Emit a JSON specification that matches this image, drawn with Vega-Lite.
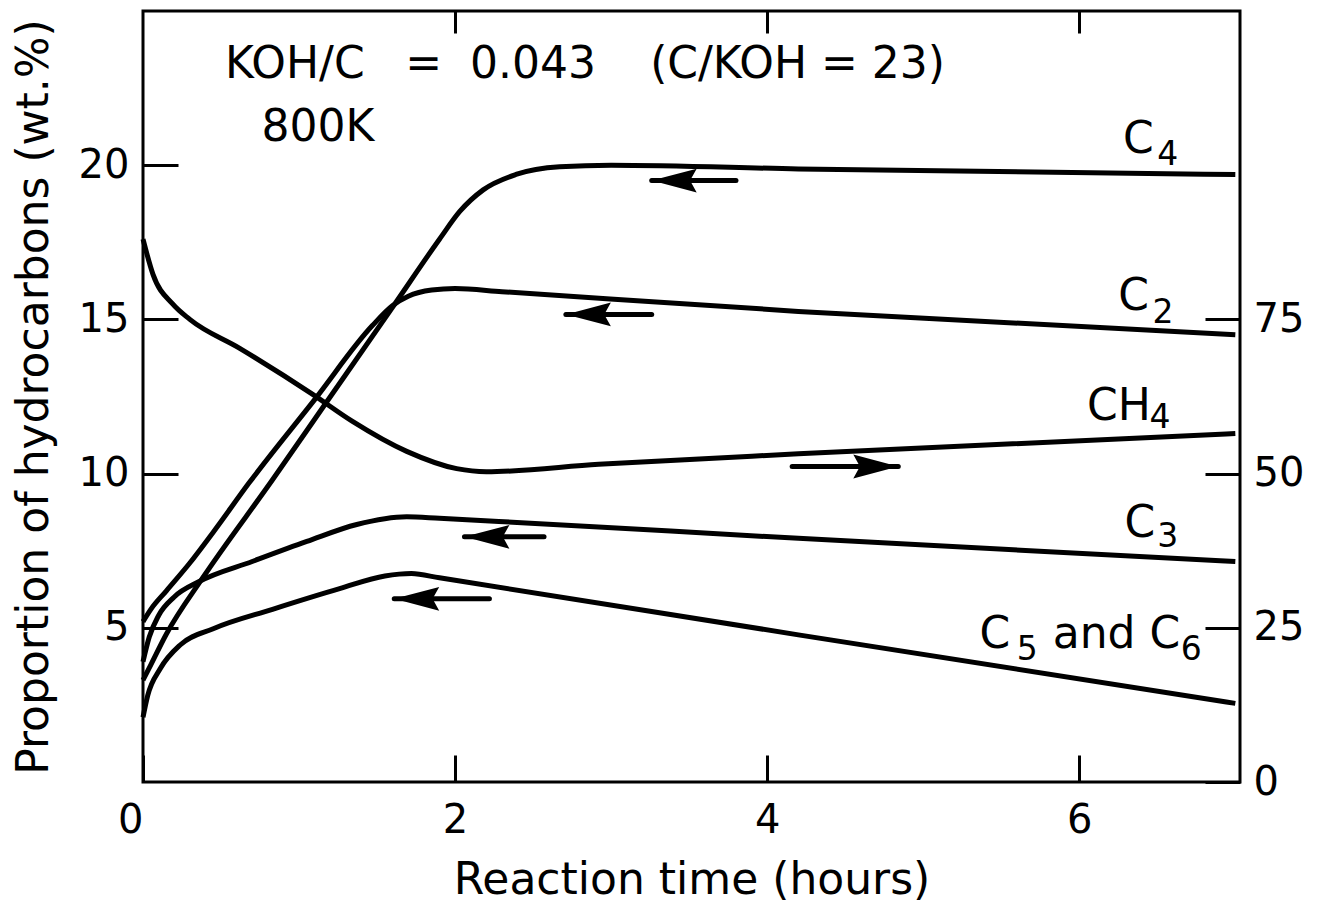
{
  "$schema": "https://vega.github.io/schema/vega-lite/v6.json",
  "width": 1097,
  "height": 771,
  "autosize": {"type": "none"},
  "padding": {"left": 143, "top": 11, "right": 91, "bottom": 124},
  "background": "white",
  "config": {
    "view": {"stroke": "black", "strokeWidth": 3},
    "font": "DejaVu Sans",
    "axis": {
      "domain": false,
      "grid": false,
      "ticks": true,
      "tickColor": "black",
      "tickWidth": 3,
      "labelColor": "black",
      "titleColor": "black",
      "labelFont": "DejaVu Sans",
      "titleFont": "DejaVu Sans",
      "labelFontSize": 40,
      "titleFontSize": 44,
      "titleFontWeight": "normal"
    }
  },
  "datasets": {
    "curves": [
      {"series": "C4", "t": 0, "wt": 3.3},
      {"series": "C4", "t": 0.05, "wt": 3.8},
      {"series": "C4", "t": 0.15, "wt": 4.8},
      {"series": "C4", "t": 0.38, "wt": 6.6},
      {"series": "C4", "t": 0.83, "wt": 9.8},
      {"series": "C4", "t": 1.16, "wt": 12.2},
      {"series": "C4", "t": 1.6, "wt": 15.4},
      {"series": "C4", "t": 1.9, "wt": 17.6},
      {"series": "C4", "t": 2.03, "wt": 18.5},
      {"series": "C4", "t": 2.18, "wt": 19.2},
      {"series": "C4", "t": 2.39, "wt": 19.7},
      {"series": "C4", "t": 2.67, "wt": 19.95},
      {"series": "C4", "t": 3.0, "wt": 20.0},
      {"series": "C4", "t": 4.2, "wt": 19.88},
      {"series": "C4", "t": 7.0, "wt": 19.7},
      {"series": "C2", "t": 0, "wt": 5.2},
      {"series": "C2", "t": 0.05, "wt": 5.6},
      {"series": "C2", "t": 0.15, "wt": 6.2},
      {"series": "C2", "t": 0.3, "wt": 7.1},
      {"series": "C2", "t": 0.45, "wt": 8.1},
      {"series": "C2", "t": 0.68, "wt": 9.7},
      {"series": "C2", "t": 1.1, "wt": 12.4},
      {"series": "C2", "t": 1.47, "wt": 14.8},
      {"series": "C2", "t": 1.6, "wt": 15.45},
      {"series": "C2", "t": 1.7, "wt": 15.75},
      {"series": "C2", "t": 1.85, "wt": 15.95},
      {"series": "C2", "t": 2.0, "wt": 16.0},
      {"series": "C2", "t": 2.3, "wt": 15.9},
      {"series": "C2", "t": 4.2, "wt": 15.26},
      {"series": "C2", "t": 7.0, "wt": 14.5},
      {"series": "C3", "t": 0, "wt": 3.9},
      {"series": "C3", "t": 0.04, "wt": 4.7},
      {"series": "C3", "t": 0.1, "wt": 5.4},
      {"series": "C3", "t": 0.2, "wt": 6.0},
      {"series": "C3", "t": 0.36, "wt": 6.5},
      {"series": "C3", "t": 0.7, "wt": 7.15},
      {"series": "C3", "t": 1.05, "wt": 7.8},
      {"series": "C3", "t": 1.37, "wt": 8.35},
      {"series": "C3", "t": 1.69, "wt": 8.6},
      {"series": "C3", "t": 1.9, "wt": 8.55},
      {"series": "C3", "t": 2.28, "wt": 8.45},
      {"series": "C3", "t": 4.2, "wt": 7.9},
      {"series": "C3", "t": 7.0, "wt": 7.15},
      {"series": "C5C6", "t": 0, "wt": 2.1},
      {"series": "C5C6", "t": 0.03, "wt": 2.8},
      {"series": "C5C6", "t": 0.11, "wt": 3.67},
      {"series": "C5C6", "t": 0.24, "wt": 4.45},
      {"series": "C5C6", "t": 0.45, "wt": 4.97},
      {"series": "C5C6", "t": 0.83, "wt": 5.6},
      {"series": "C5C6", "t": 1.26, "wt": 6.27},
      {"series": "C5C6", "t": 1.55, "wt": 6.68},
      {"series": "C5C6", "t": 1.72, "wt": 6.76},
      {"series": "C5C6", "t": 1.9, "wt": 6.62},
      {"series": "C5C6", "t": 4.2, "wt": 4.77},
      {"series": "C5C6", "t": 7.0, "wt": 2.55}
    ],
    "methane": [
      {"t": 0, "pct": 88},
      {"t": 0.064, "pct": 82.3},
      {"t": 0.19, "pct": 77.5},
      {"t": 0.3, "pct": 75},
      {"t": 0.62, "pct": 70.3},
      {"t": 1.09, "pct": 62.8},
      {"t": 1.34, "pct": 58.5},
      {"t": 1.69, "pct": 53.6},
      {"t": 2.01, "pct": 50.8},
      {"t": 2.2, "pct": 50.3},
      {"t": 2.92, "pct": 51.5},
      {"t": 4.2, "pct": 53.2},
      {"t": 7.0, "pct": 56.5}
    ],
    "arrows": [
      {"series": "C4", "tail": 3.8, "head": 3.26, "v": 19.5, "dir": "left"},
      {"series": "C2", "tail": 3.26, "head": 2.71, "v": 15.16, "dir": "left"},
      {"series": "CH4", "tail": 4.16, "head": 4.84, "v": 10.23, "dir": "right"},
      {"series": "C3", "tail": 2.57, "head": 2.06, "v": 7.95, "dir": "left"},
      {"series": "C5C6", "tail": 2.22, "head": 1.61, "v": 5.94, "dir": "left"}
    ],
    "labels": [
      {"label": "KOH/C", "t": 0.525, "v": 22.83},
      {"label": "=", "t": 1.68, "v": 22.83},
      {"label": "0.043", "t": 2.095, "v": 22.83},
      {"label": "(C/KOH = 23)", "t": 3.25, "v": 22.83},
      {"label": "800K", "t": 0.76, "v": 20.8},
      {"label": "C", "t": 6.28, "v": 20.4},
      {"label": "C", "t": 6.25, "v": 15.3},
      {"label": "CH", "t": 6.05, "v": 11.74},
      {"label": "C", "t": 6.29, "v": 7.94},
      {"label": "C", "t": 5.36, "v": 4.35},
      {"label": "and", "t": 5.83, "v": 4.35},
      {"label": "C", "t": 6.45, "v": 4.35}
    ],
    "subscripts": [
      {"label": "4", "t": 6.5, "v": 20.0},
      {"label": "2", "t": 6.47, "v": 14.88},
      {"label": "4", "t": 6.45, "v": 11.48},
      {"label": "3", "t": 6.5, "v": 7.62},
      {"label": "5", "t": 5.6, "v": 3.96},
      {"label": "6", "t": 6.65, "v": 3.96}
    ]
  },
  "layer": [
    {
      "data": {"name": "curves"},
      "mark": {"type": "line", "color": "black", "strokeWidth": 5, "interpolate": "monotone"},
      "encoding": {
        "x": {
          "field": "t", "type": "quantitative",
          "scale": {"domain": [0, 7.03], "nice": false, "zero": false},
          "axis": {
            "orient": "bottom", "values": [0, 2, 4, 6], "tickSize": -27, "labelPadding": 45,
            "labelAlign": {"condition": {"test": "datum.value === 0", "value": "right"}, "value": "center"},
            "title": "Reaction time (hours)", "titlePadding": 18
          }
        },
        "y": {
          "field": "wt", "type": "quantitative",
          "scale": {"domain": [0, 25], "nice": false},
          "axis": {
            "orient": "left", "values": [5, 10, 15, 20], "tickSize": -35, "labelPadding": 49,
            "title": "Proportion of hydrocarbons (wt.%)", "titlePadding": 22
          }
        },
        "detail": {"field": "series"}
      }
    },
    {
      "data": {"name": "methane"},
      "mark": {"type": "line", "color": "black", "strokeWidth": 5, "interpolate": "monotone"},
      "encoding": {
        "x": {
          "field": "t", "type": "quantitative",
          "scale": {"domain": [0, 7.03], "nice": false, "zero": false},
          "axis": {"orient": "top", "values": [2, 4, 6], "tickSize": -22, "labels": false, "title": null}
        },
        "y": {
          "field": "pct", "type": "quantitative",
          "scale": {"domain": [0, 125], "nice": false},
          "axis": {"orient": "right", "values": [0, 25, 50, 75], "tickSize": -35, "labelPadding": 48, "title": null}
        }
      }
    },
    {
      "data": {"name": "arrows"},
      "mark": {"type": "rule", "color": "black", "strokeWidth": 5, "strokeCap": "round"},
      "encoding": {
        "x": {"field": "tail", "type": "quantitative", "scale": {"domain": [0, 7.03], "nice": false, "zero": false}, "axis": null},
        "x2": {"field": "head"},
        "y": {"field": "v", "type": "quantitative", "scale": {"domain": [0, 25], "nice": false}, "axis": null}
      }
    },
    {
      "data": {"name": "arrows"},
      "mark": {"type": "point", "filled": true, "color": "black", "opacity": 1, "size": 700, "strokeWidth": 0},
      "encoding": {
        "x": {"field": "head", "type": "quantitative", "scale": {"domain": [0, 7.03], "nice": false, "zero": false}, "axis": null},
        "y": {"field": "v", "type": "quantitative", "scale": {"domain": [0, 25], "nice": false}, "axis": null},
        "shape": {
          "field": "dir", "type": "nominal", "legend": null,
          "scale": {"domain": ["left", "right"], "range": ["M0,0L3.4,-0.9L2.9,0L3.4,0.9Z", "M0,0L-3.4,-0.9L-2.9,0L-3.4,0.9Z"]}
        }
      }
    },
    {
      "data": {"name": "labels"},
      "mark": {"type": "text", "align": "left", "baseline": "alphabetic", "fontSize": 44, "font": "DejaVu Sans", "color": "black"},
      "encoding": {
        "x": {"field": "t", "type": "quantitative", "scale": {"domain": [0, 7.03], "nice": false, "zero": false}, "axis": null},
        "y": {"field": "v", "type": "quantitative", "scale": {"domain": [0, 25], "nice": false}, "axis": null},
        "text": {"field": "label"}
      }
    },
    {
      "data": {"name": "subscripts"},
      "mark": {"type": "text", "align": "left", "baseline": "alphabetic", "fontSize": 33, "font": "DejaVu Sans", "color": "black"},
      "encoding": {
        "x": {"field": "t", "type": "quantitative", "scale": {"domain": [0, 7.03], "nice": false, "zero": false}, "axis": null},
        "y": {"field": "v", "type": "quantitative", "scale": {"domain": [0, 25], "nice": false}, "axis": null},
        "text": {"field": "label"}
      }
    }
  ],
  "resolve": {"scale": {"y": "independent"}, "axis": {"x": "independent", "y": "independent"}}
}
